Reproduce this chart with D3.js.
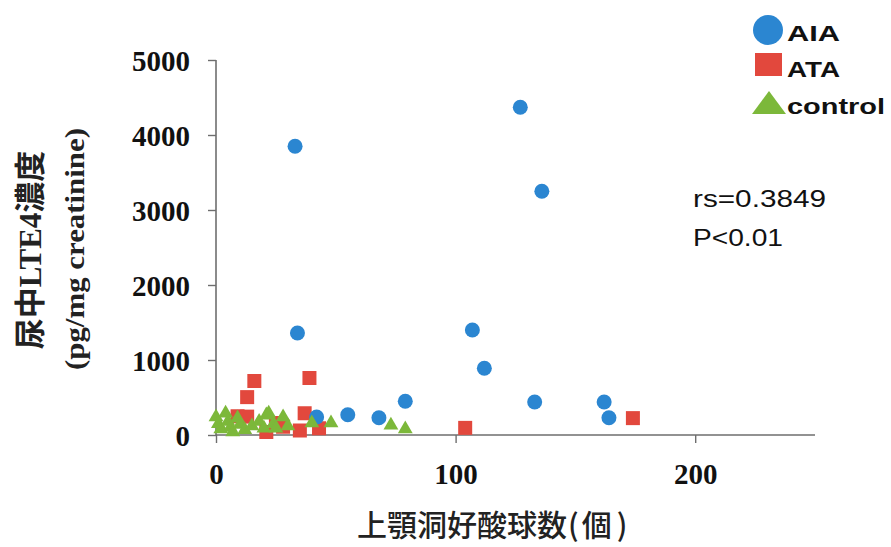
<!DOCTYPE html>
<html>
<head>
<meta charset="utf-8">
<script src="https://cdn.jsdelivr.net/npm/d3@7"></script>
<style>
  html, body { margin: 0; padding: 0; background: #fff; }
  svg { display: block; }
</style>
</head>
<body>
<svg id="chart" width="891" height="547"></svg>
<script>
// Eosinophil count in maxillary sinus (x) vs. urinary LTE4 (y), three groups
const aiaPoints = [
  [33, 3850], [34, 1360], [127, 4370], [136, 3250], [107, 1400], [112, 890],
  [133, 440], [162, 440], [164, 230], [79, 450], [55, 270], [68, 230], [42, 240]
];
const ataPoints = [
  [16, 720], [39, 760], [13, 505], [9, 250], [13, 245], [37, 290], [35, 60],
  [43, 90], [25, 160], [21, 40], [28, 110], [104, 95], [174, 225]
];
const controlPoints = [
  [0, 240], [1, 150], [2, 80], [4, 290], [5, 180], [6, 100], [7, 40], [9, 225],
  [10, 140], [12, 70], [15, 120], [18, 180], [20, 90], [21, 265], [22, 290],
  [24, 150], [25, 90], [28, 240], [30, 120], [40, 160], [48, 160], [73, 130], [79, 80]
];
const xTicks = [0, 100, 200];
const yTicks = [0, 1000, 2000, 3000, 4000, 5000];
const legendLabels = ["AIA", "ATA", "control"];
const statLines = ["rs=0.3849", "P<0.01"];

const colors = { AIA: "#2b86d1", ATA: "#e2483d", control: "#7cb83a" };
const axisColor = "#6e6e6e";

const svg = d3.select("#chart");

const x = d3.scaleLinear().domain([0, 250]).range([216, 815]);
const y = d3.scaleLinear().domain([0, 5000]).range([435, 60]);

// X axis
const xAxis = svg.append("g").attr("transform", `translate(0,${y(0)})`)
  .call(d3.axisBottom(x).tickValues(xTicks).tickSize(8).tickFormat(d3.format("d")));
xAxis.select(".domain").attr("stroke", axisColor).attr("stroke-width", 1.6)
  .attr("d", `M${x(0)},0H${x(250)}`);
xAxis.selectAll(".tick line").attr("stroke", axisColor).attr("stroke-width", 1.4);
xAxis.selectAll(".tick text")
  .attr("y", 28).attr("dy", "0.71em")
  .attr("fill", "#111")
  .style("font-family", "'Liberation Serif', 'Times New Roman', serif")
  .style("font-weight", "bold").style("font-size", "29px");

// Y axis
const yAxis = svg.append("g").attr("transform", `translate(${x(0)},0)`)
  .call(d3.axisLeft(y).tickValues(yTicks).tickSize(8).tickFormat(d3.format("d")));
yAxis.select(".domain").attr("stroke", axisColor).attr("stroke-width", 1.6)
  .attr("d", `M0,${y(5000)}V${y(0)}`);
yAxis.selectAll(".tick line").attr("stroke", axisColor).attr("stroke-width", 1.4);
yAxis.selectAll(".tick text")
  .attr("x", -26).attr("dy", "0.36em")
  .attr("fill", "#111")
  .style("font-family", "'Liberation Serif', 'Times New Roman', serif")
  .style("font-weight", "bold").style("font-size", "29px");

// Markers
const plot = svg.append("g");
plot.selectAll("rect.ata").data(ataPoints).join("rect")
  .attr("class", "ata")
  .attr("x", d => x(d[0]) - 7).attr("y", d => y(d[1]) - 7)
  .attr("width", 14).attr("height", 14)
  .attr("fill", colors.ATA);
plot.selectAll("circle.aia").data(aiaPoints).join("circle")
  .attr("class", "aia")
  .attr("cx", d => x(d[0])).attr("cy", d => y(d[1])).attr("r", 7.5)
  .attr("fill", colors.AIA);
const tri = d3.symbol().type(d3.symbolTriangle).size(95);
plot.selectAll("path.ctrl").data(controlPoints).join("path")
  .attr("class", "ctrl")
  .attr("transform", d => `translate(${x(d[0])},${y(d[1])})`)
  .attr("d", tri)
  .attr("fill", colors.control);

// Axis titles
const cjk = "'Noto Sans CJK JP', sans-serif";
const xTitle = svg.append("text")
  .attr("x", 357).attr("y", 536)
  .attr("fill", "#222")
  .style("font-family", cjk)
  .style("font-weight", "500").style("font-size", "30px");
xTitle.append("tspan").text("上顎洞好酸球数");
xTitle.append("tspan").attr("dx", 1).text("(");
xTitle.append("tspan").attr("dx", 3).text("個");
xTitle.append("tspan").attr("dx", 5).text(")");

const line1 = svg.append("text")
  .attr("transform", "translate(41,250) rotate(-90)")
  .attr("text-anchor", "middle")
  .attr("fill", "#222")
  .style("font-weight", "bold").style("font-size", "31px");
line1.append("tspan").style("font-family", cjk).text("尿中");
line1.append("tspan").style("font-family", "'Liberation Serif', serif").text("LTE4");
line1.append("tspan").style("font-family", cjk).text("濃度");

svg.append("text")
  .attr("transform", "translate(84,249) rotate(-90)")
  .attr("text-anchor", "middle")
  .attr("textLength", 242).attr("lengthAdjust", "spacingAndGlyphs")
  .attr("fill", "#222")
  .style("font-family", "'Liberation Serif', serif")
  .style("font-weight", "bold").style("font-size", "27px")
  .text("(pg/mg  creatinine)");

// Legend
const legend = svg.append("g");
const legendFont = "'Liberation Sans', Arial, sans-serif";
legend.append("circle").attr("cx", 768).attr("cy", 30).attr("r", 15).attr("fill", colors.AIA);
legend.append("rect").attr("x", 755).attr("y", 53).attr("width", 27).attr("height", 23).attr("fill", colors.ATA);
legend.append("path")
  .attr("d", "M769,91L786,114L752,114Z")
  .attr("fill", colors.control);
const legendY = [41, 77, 114];
const legendW = [53, 53, 98];
legend.selectAll("text.leg").data(legendLabels).join("text")
  .attr("class", "leg")
  .attr("x", 787).attr("y", (d, i) => legendY[i])
  .attr("textLength", (d, i) => legendW[i]).attr("lengthAdjust", "spacingAndGlyphs")
  .attr("fill", "#111")
  .style("font-family", legendFont).style("font-weight", "bold").style("font-size", "22px")
  .text(d => d);

// Correlation statistics
const statY = [207, 246];
const statW = [133, 90];
svg.selectAll("text.stat").data(statLines).join("text")
  .attr("class", "stat")
  .attr("x", 693).attr("y", (d, i) => statY[i])
  .attr("textLength", (d, i) => statW[i]).attr("lengthAdjust", "spacingAndGlyphs")
  .attr("fill", "#111")
  .style("font-family", legendFont).style("font-size", "23px")
  .text(d => d);
</script>
</body>
</html>
